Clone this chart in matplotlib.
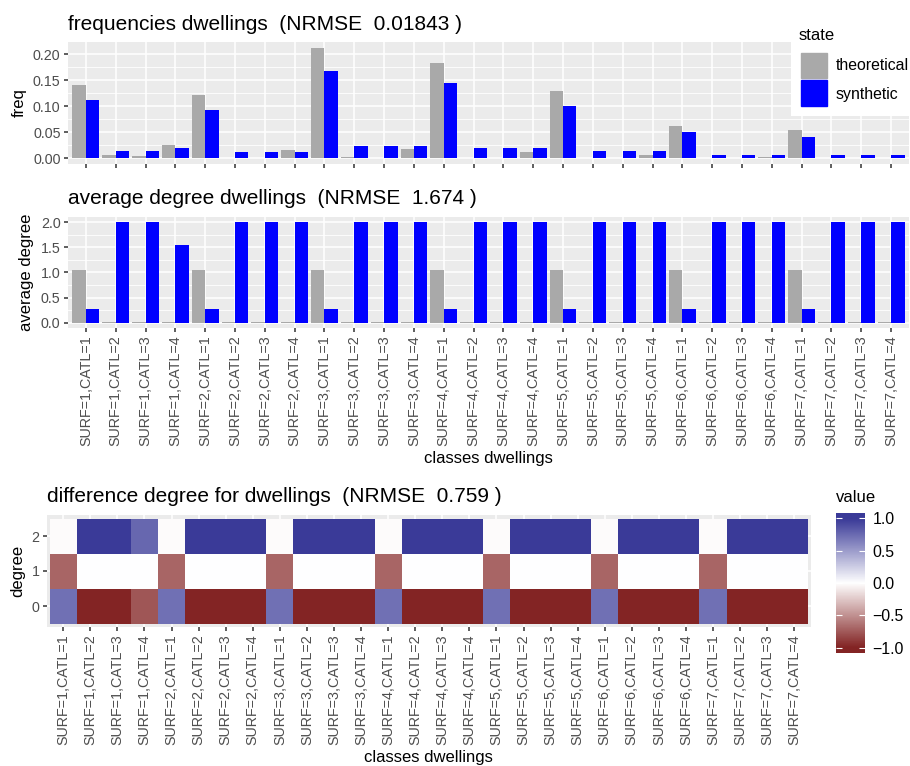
import numpy as np
import matplotlib
matplotlib.use('Agg')
import matplotlib.pyplot as plt
from matplotlib.colors import LinearSegmentedColormap, Normalize
from matplotlib.patches import Rectangle

plt.rcParams['font.family'] = ['Liberation Sans', 'DejaVu Sans']

classes = [f'SURF={s},CATL={c}' for s in range(1, 8) for c in range(1, 5)]

freq_theoretical = [0.142, 0.006, 0.004, 0.026, 0.121, 0.001, 0.001, 0.017,
                    0.213, 0.003, 0.001, 0.019, 0.183, 0.001, 0.001, 0.013,
                    0.129, 0.001, 0.001, 0.007, 0.063, 0.001, 0.001, 0.003,
                    0.055, 0.001, 0.001, 0.001]
freq_synthetic = [0.112, 0.015, 0.015, 0.021, 0.094, 0.013, 0.013, 0.013,
                  0.167, 0.024, 0.024, 0.024, 0.144, 0.021, 0.021, 0.021,
                  0.100, 0.015, 0.015, 0.015, 0.050, 0.007, 0.007, 0.007,
                  0.042, 0.007, 0.007, 0.007]

deg_theoretical = [1.05, 0.01, 0.01, 0.01] * 7
deg_synthetic = [0.28, 2.0, 2.0, 1.54] + [0.28, 2.0, 2.0, 2.0] * 6

diff_deg0 = [0.72, -1.0, -1.0, -0.77] + [0.72, -1.0, -1.0, -1.0] * 6
diff_deg1 = [-0.70, 0.0, 0.0, 0.0] * 7
diff_deg2 = [-0.02, 1.0, 1.0, 0.77] + [-0.02, 1.0, 1.0, 1.0] * 6

titles = ['frequencies dwellings  (NRMSE  0.01843 )',
          'average degree dwellings  (NRMSE  1.674 )',
          'difference degree for dwellings  (NRMSE  0.759 )']

GRAY_BG = '#EBEBEB'
TXT = '#4D4D4D'
TITLE_FS = 15
AXIS_FS = 12
TICK_FS = 10.3
LEG_FS = 11.4
W, H = 910, 766
fig = plt.figure(figsize=(W / 100, H / 100), dpi=100)


def px_axes(l, t, r, b):
    return fig.add_axes([l / W, 1 - b / H, (r - l) / W, (b - t) / H])


def gg_style(ax):
    ax.set_facecolor(GRAY_BG)
    for s in ax.spines.values():
        s.set_visible(False)
    ax.tick_params(colors='#333333', labelcolor=TXT, labelsize=TICK_FS,
                   length=3, width=1.1, pad=2.4)
    ax.set_axisbelow(True)


n = len(classes)
x = np.arange(n)
bw = 0.45

# ---- frequencies
ax1 = px_axes(68, 42, 909, 164)
gg_style(ax1)
ax1.bar(x - bw / 2, freq_theoretical, width=bw, color='#A9A9A9', zorder=3)
ax1.bar(x + bw / 2, freq_synthetic, width=bw, color='#0000FF', zorder=3)
top = max(max(freq_theoretical), max(freq_synthetic))
ax1.set_ylim(-0.05 * top, 1.05 * top)
ax1.set_xlim(-0.6, n - 0.4)
ax1.set_yticks([0, 0.05, 0.10, 0.15, 0.20])
ax1.set_yticklabels(['0.00', '0.05', '0.10', '0.15', '0.20'])
ax1.set_yticks([0.025, 0.075, 0.125, 0.175], minor=True)
ax1.set_xticks(x)
ax1.set_xticklabels([])
ax1.tick_params(axis='y', which='minor', length=0)
ax1.grid(True, which='major', color='white', lw=1.15)
ax1.grid(True, which='minor', axis='y', color='white', lw=0.6)
ax1.set_ylabel('freq', fontsize=AXIS_FS, labelpad=4.5)
ax1.set_title(titles[0], loc='left', fontsize=TITLE_FS, pad=9)

# legend "state"
lg = px_axes(791, 18, 910, 116)
lg.set_xlim(0, 119)
lg.set_ylim(98, 0)
lg.axis('off')
lg.add_patch(Rectangle((0, 0), 119, 98, color='white', zorder=0))
lg.text(8, 17, 'state', fontsize=AXIS_FS, va='center', ha='left')
lg.add_patch(Rectangle((10, 34.7), 26, 25.3, color='#A9A9A9'))
lg.add_patch(Rectangle((10, 62), 26, 26, color='#0000FF'))
lg.text(45, 48, 'theoretical', fontsize=LEG_FS, va='center', ha='left')
lg.text(45, 76, 'synthetic', fontsize=LEG_FS, va='center', ha='left')

# ---- average degree
ax2 = px_axes(68, 217, 909, 328)
gg_style(ax2)
ax2.bar(x - bw / 2, deg_theoretical, width=bw, color='#A9A9A9', zorder=3)
ax2.bar(x + bw / 2, deg_synthetic, width=bw, color='#0000FF', zorder=3)
top2 = max(max(deg_theoretical), max(deg_synthetic))
ax2.set_ylim(-0.05 * top2, 1.05 * top2)
ax2.set_xlim(-0.6, n - 0.4)
ax2.set_yticks([0, 0.5, 1.0, 1.5, 2.0])
ax2.set_yticklabels(['0.0', '0.5', '1.0', '1.5', '2.0'])
ax2.set_yticks([0.25, 0.75, 1.25, 1.75], minor=True)
ax2.tick_params(axis='y', which='minor', length=0)
ax2.set_xticks(x)
ax2.set_xticklabels(classes, rotation=90)
ax2.grid(True, which='major', color='white', lw=1.15)
ax2.grid(True, which='minor', axis='y', color='white', lw=0.6)
ax2.set_ylabel('average degree', fontsize=AXIS_FS, labelpad=4.5)
ax2.set_xlabel('classes dwellings', fontsize=AXIS_FS, labelpad=3.5)
ax2.set_title(titles[1], loc='left', fontsize=TITLE_FS, pad=9)

# ---- heatmap
ax3 = px_axes(47, 515, 810.5, 627)
gg_style(ax3)
diff = np.array([diff_deg0, diff_deg1, diff_deg2])
cmap = LinearSegmentedColormap.from_list('gg2', ['#832424', '#FFFFFF', '#3A3A98'])
norm = Normalize(vmin=-1, vmax=1)
ax3.pcolormesh(np.arange(n + 1) - 0.5, np.arange(4) - 0.5, diff,
               cmap=cmap, norm=norm, zorder=3)
ax3.set_xlim(-0.6, n - 0.4)
ax3.set_ylim(-0.6, 2.6)
ax3.set_xticks(x)
ax3.set_xticklabels(classes, rotation=90)
ax3.set_yticks([0, 1, 2])
ax3.grid(True, color='white', lw=1.15)
ax3.set_ylabel('degree', fontsize=AXIS_FS, labelpad=4.5)
ax3.set_xlabel('classes dwellings', fontsize=AXIS_FS, labelpad=3.5)
ax3.set_title(titles[2], loc='left', fontsize=TITLE_FS, pad=9)

# colorbar
cb = px_axes(836, 513, 865, 653)
grad = np.linspace(-1.08, 1.08, 200).reshape(-1, 1)
cb.imshow(grad, cmap=cmap, norm=norm, aspect='auto', origin='lower',
          extent=[0, 1, -1.08, 1.08])
cb.set_xlim(0, 1)
cb.set_ylim(-1.08, 1.08)
for s in cb.spines.values():
    s.set_visible(False)
cb.set_xticks([])
cb.set_yticks([-1, -0.5, 0, 0.5, 1])
cb.set_yticklabels(['\u22121.0', '\u22120.5', '0.0', '0.5', '1.0'])
cb.tick_params(axis='y', direction='in', length=4, width=0.8, color='white',
               left=True, right=True, labelleft=False, labelright=True,
               labelsize=LEG_FS, labelcolor='black', pad=5.5)
fig.text(836 / W, 1 - 497 / H, 'value', fontsize=AXIS_FS, va='center', ha='left')

plt.savefig('out.png', dpi=100)
